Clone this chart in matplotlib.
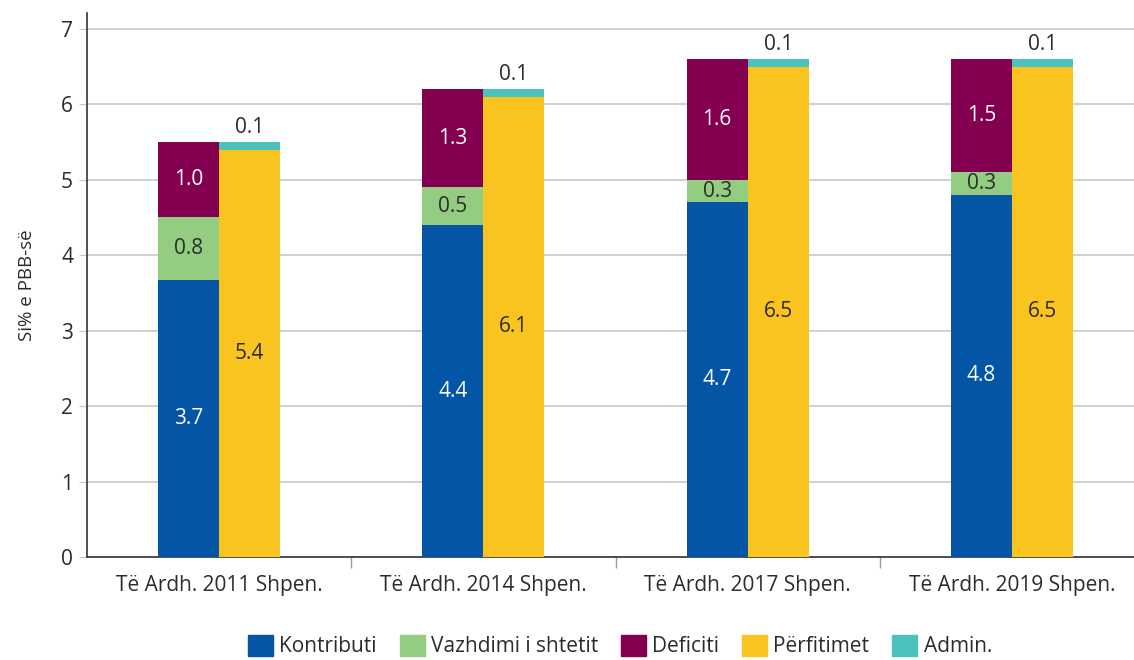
import matplotlib
matplotlib.use("Agg")
import matplotlib.pyplot as plt
from matplotlib.patches import Patch
import numpy as np

plt.rcParams['font.family'] = ['Open Sans', 'DejaVu Sans']

categories = ["Të Ardh. 2011 Shpen.", "Të Ardh. 2014 Shpen.", "Të Ardh. 2017 Shpen.", "Të Ardh. 2019 Shpen."]
kontributi = [3.67, 4.4, 4.7, 4.8]
vazhdimi = [0.83, 0.5, 0.3, 0.3]
deficiti = [1.0, 1.3, 1.6, 1.5]
perfitimet = [5.4, 6.1, 6.5, 6.5]
admin = [0.1, 0.1, 0.1, 0.1]

c_blue = "#0455A6"
c_green = "#93CD82"
c_purple = "#82004F"
c_yellow = "#F9C41F"
c_teal = "#4BC2BD"
txt_dark = "#2b2b2b"

fig = plt.figure(figsize=(11.34, 6.6), dpi=100)
ax = fig.add_axes([87/1134, 1-557/660, (1144-87)/1134, (557-13)/660])

x = np.arange(len(categories))
w = 0.231
xl = x - w/2
xr = x + w/2

k = np.array(kontributi); v = np.array(vazhdimi); d = np.array(deficiti)
p = np.array(perfitimet); a = np.array(admin)

ax.bar(xl, k, w, color=c_blue, zorder=3)
ax.bar(xl, v, w, bottom=k, color=c_green, zorder=3)
ax.bar(xl, d, w, bottom=k+v, color=c_purple, zorder=3)
ax.bar(xr, p, w, color=c_yellow, zorder=3)
ax.bar(xr, a, w, bottom=p, color=c_teal, zorder=3)

fs = 15
for i in range(len(categories)):
    ax.text(xl[i], k[i]/2, f"{k[i]:.1f}", ha='center', va='center', color='white', fontsize=fs, zorder=4)
    ax.text(xl[i], k[i]+v[i]/2, f"{v[i]:.1f}", ha='center', va='center', color=txt_dark, fontsize=fs, zorder=4)
    ax.text(xl[i], k[i]+v[i]+d[i]/2, f"{d[i]:.1f}", ha='center', va='center', color='white', fontsize=fs, zorder=4)
    ax.text(xr[i], p[i]/2, f"{p[i]:.1f}", ha='center', va='center', color=txt_dark, fontsize=fs, zorder=4)
    ax.text(xr[i], p[i]+a[i]+0.05, f"{a[i]:.1f}", ha='center', va='bottom', color=txt_dark, fontsize=fs, zorder=4)

ax.set_xlim(-0.5, len(categories)-0.5)
ax.set_ylim(0, 7.21)
ax.set_yticks(range(0, 8))
ax.yaxis.grid(True, color="#c8c8c8", linewidth=1.2, zorder=0)
ax.set_axisbelow(True)

ax.set_xticks(x)
ax.set_xticklabels(categories, fontsize=fs, color=txt_dark)
ax.tick_params(axis='x', length=0, pad=13)
ax.set_xticks(np.arange(0.5, len(categories)-0.5, 1), minor=True)
ax.tick_params(axis='x', which='minor', length=8, color="#999999", width=1)
ax.tick_params(axis='y', labelsize=fs, labelcolor=txt_dark, length=6, color="#c8c8c8", pad=4)

for s in ['top', 'right']:
    ax.spines[s].set_visible(False)
ax.spines['left'].set_color("#333333")
ax.spines['bottom'].set_color("#333333")
ax.spines['left'].set_linewidth(1.2)
ax.spines['bottom'].set_linewidth(1.2)

ax.set_ylabel("Si% e PBB-së", fontsize=13.5, color=txt_dark, labelpad=18)

handles = [Patch(color=c_blue), Patch(color=c_green), Patch(color=c_purple), Patch(color=c_yellow), Patch(color=c_teal)]
labels = ["Kontributi", "Vazhdimi i shtetit", "Deficiti", "Përfitimet", "Admin."]
fig.legend(handles, labels, loc='center', bbox_to_anchor=(620/1134, 1-646/660), ncol=5, frameon=False,
           fontsize=fs, handlelength=1.2, handleheight=1.2, handletextpad=0.3, columnspacing=1.1,
           labelcolor=txt_dark, borderpad=0.2)

fig.savefig("out.png", dpi=100)
